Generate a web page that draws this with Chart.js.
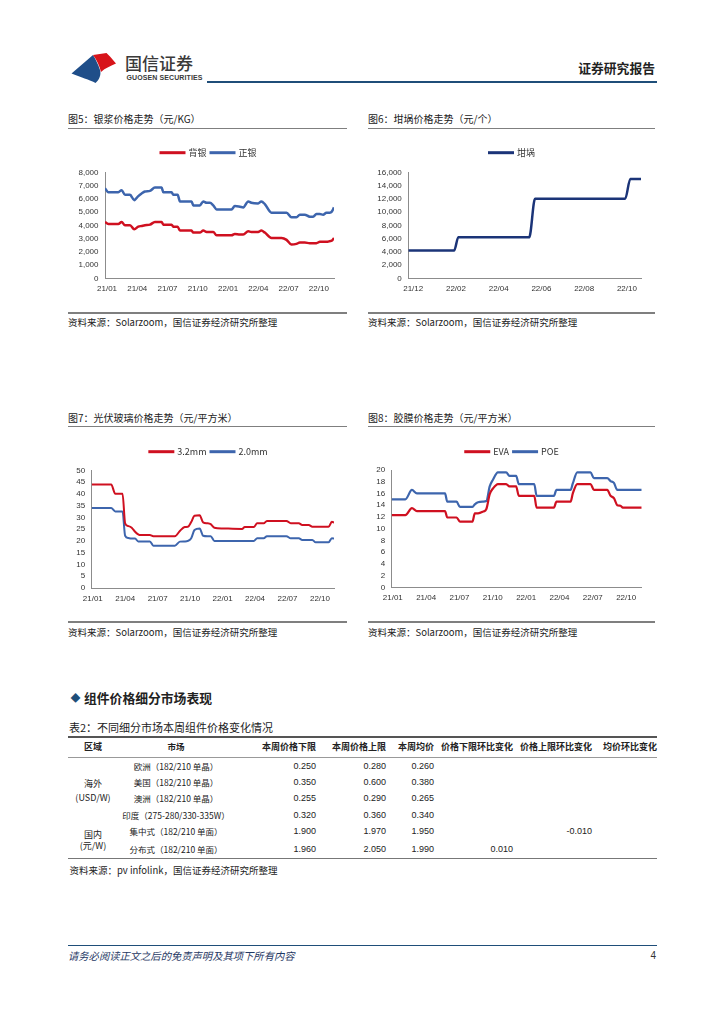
<!DOCTYPE html>
<html>
<head>
<meta charset="utf-8">
<script src="https://cdn.jsdelivr.net/npm/chart.js@4.4.1/dist/chart.umd.min.js"></script>
<style>
    body { margin: 0; width: 724px; height: 1024px; background: #fff; position: relative; overflow: hidden;
           font-family: "Noto Sans CJK SC", sans-serif; color: #222; }
    .abs { position: absolute; white-space: nowrap; }
    .rule { position: absolute; }
    .title { font-size: 10px; line-height: 10px; color: #222; }
    .src { font-size: 9.5px; line-height: 9.5px; color: #222; }
    canvas { position: absolute; }
    .cell { position: absolute; white-space: nowrap; font-size: 9px; line-height: 9px; }
    .num { font-family: "Liberation Sans", Arial, sans-serif; }
</style>
</head>
<body>

<svg class="abs" style="left:0;top:0" width="130" height="90">
    <path d="M71.5,73.5 L93,55 C96,60 98,64 100,70 C101.5,75 99,80 95.5,83 C90,80 80,77 71.5,73.5 Z" fill="#1f4e89"/>
    <path d="M93,55 L106.5,53 L110,56.5 L116,63.5 C111,66 105,68 101,72 C99.5,66 97,60 93,55 Z" fill="#d7141a"/>
</svg>
<div class="abs" style="left:125px;top:54px;font-size:17px;line-height:17px;color:#3a3a3a;font-weight:500">国信证券</div>
<div class="abs" style="left:126.5px;top:73.5px;font-size:7px;line-height:7px;color:#3a3a3a;font-weight:bold;font-family:'Liberation Sans',Arial,sans-serif;letter-spacing:0.1px">GUOSEN SECURITIES</div>
<div class="rule" style="left:207px;top:81px;width:450px;height:2px;background:#1f4e79"></div>
<div class="abs" style="right:69px;top:62px;font-size:12.8px;line-height:12.8px;font-weight:bold;color:#222">证券研究报告</div>

<div class="abs title" style="left:68px;top:114px">图5：银浆价格走势（元/KG）</div>
<div class="rule" style="left:68px;top:127.5px;width:279px;height:1.5px;background:#7f7f7f"></div>
<div class="abs title" style="left:368px;top:114px">图6：坩埚价格走势（元/个）</div>
<div class="rule" style="left:368px;top:127.5px;width:287px;height:1.5px;background:#7f7f7f"></div>

<canvas id="c5" width="280" height="160" style="left:68px;top:140px"></canvas>
<canvas id="c6" width="287" height="160" style="left:368px;top:140px"></canvas>

<div class="rule" style="left:68px;top:312px;width:279px;height:1.5px;background:#7f7f7f"></div>
<div class="abs src" style="left:68px;top:317.5px">资料来源：Solarzoom，国信证券经济研究所整理</div>
<div class="rule" style="left:368px;top:312px;width:287px;height:1.5px;background:#7f7f7f"></div>
<div class="abs src" style="left:368px;top:317.5px">资料来源：Solarzoom，国信证券经济研究所整理</div>

<div class="abs title" style="left:68px;top:412.5px">图7：光伏玻璃价格走势（元/平方米）</div>
<div class="rule" style="left:68px;top:425.5px;width:279px;height:1.5px;background:#7f7f7f"></div>
<div class="abs title" style="left:368px;top:412.5px">图8：胶膜价格走势（元/平方米）</div>
<div class="rule" style="left:368px;top:425.5px;width:287px;height:1.5px;background:#7f7f7f"></div>

<canvas id="c7" width="280" height="170" style="left:68px;top:440px"></canvas>
<canvas id="c8" width="287" height="170" style="left:368px;top:440px"></canvas>

<div class="rule" style="left:68px;top:621px;width:279px;height:1.5px;background:#7f7f7f"></div>
<div class="abs src" style="left:68px;top:627.5px">资料来源：Solarzoom，国信证券经济研究所整理</div>
<div class="rule" style="left:368px;top:621px;width:287px;height:1.5px;background:#7f7f7f"></div>
<div class="abs src" style="left:368px;top:627.5px">资料来源：Solarzoom，国信证券经济研究所整理</div>

<div class="abs" style="left:70.5px;top:692px;font-size:10px;line-height:12px;color:#1f4e79">◆</div>
<div class="abs" style="left:84px;top:691.5px;font-size:12.8px;line-height:12.8px;font-weight:bold;color:#222">组件价格细分市场表现</div>
<div class="abs" style="left:69px;top:722px;font-size:11px;line-height:11px;color:#222">表2：不同细分市场本周组件价格变化情况</div>
<div class="rule" style="left:68px;top:736px;width:589px;height:1.5px;background:#555"></div>
<div class="rule" style="left:68px;top:757px;width:589px;height:1px;background:#999"></div>
<div class="rule" style="left:68px;top:858px;width:589px;height:1px;background:#777"></div>
<div id="table"></div>
<div class="abs src" style="left:69.5px;top:866px">资料来源：pv infolink，国信证券经济研究所整理</div>

<div class="rule" style="left:68px;top:945px;width:589px;height:1px;background:#1f4e79"></div>
<div class="abs" style="left:68px;top:951px;font-size:10.3px;line-height:10.3px;font-style:italic;color:#1f3864">请务必阅读正文之后的免责声明及其项下所有内容</div>
<div class="abs" style="right:68px;top:951px;font-size:10px;line-height:10px;color:#333;font-family:'Liberation Sans',Arial,sans-serif">4</div>

<script>
// 图5 银浆 (元/KG), x in months from 21/01
const silverMonths = [-0.2, 0.13, 1.12, 1.45, 1.78, 2.28, 2.7, 3.1, 3.43, 3.76, 4.26, 4.75, 5.41, 5.58, 6.4, 6.57, 7.0,
    7.23, 8.38, 8.55, 9.2, 9.54, 9.87, 10.2, 10.53, 10.86, 12.34, 12.67, 13.17, 13.5, 14.0, 14.3, 14.98, 15.3, 15.64,
    16.3, 17.3, 17.8, 18.28, 18.78, 19.11, 19.6, 20.1, 20.43, 20.76, 21.1, 21.42, 21.75, 22.08, 22.3, 22.5];
const backSilver = [4250, 4100, 4100, 4250, 4000, 4000, 3700, 3900, 3950, 4000, 4050, 4250, 4250, 4050, 4050, 3900, 3900,
    3600, 3600, 3450, 3450, 3600, 3500, 3500, 3500, 3250, 3250, 3350, 3300, 3300, 3550, 3500, 3500, 3600, 3450,
    3050, 3050, 2900, 2550, 2600, 2700, 2700, 2650, 2650, 2650, 2750, 2750, 2750, 2800, 2850, 3050];
const frontSilver = [6800, 6500, 6500, 6650, 6300, 6300, 5900, 6200, 6400, 6550, 6600, 6850, 6850, 6500, 6500, 6300, 6300,
    5800, 5800, 5500, 5500, 5800, 5700, 5700, 5500, 5200, 5200, 5450, 5400, 5350, 5800, 5700, 5650, 5800, 5600,
    4950, 4950, 4950, 4600, 4600, 4800, 4800, 4650, 4650, 4850, 4850, 4800, 4950, 4950, 5050, 5350];
const silverTicks = [0, 3, 6, 9, 12, 15, 18, 21];
const silverLabels = ['21/01', '21/04', '21/07', '21/10', '22/01', '22/04', '22/07', '22/10'];

// 图6 坩埚 (元/个), x in months from 21/12
const crucibleMonths = [-0.23, 1.92, 2.11, 5.43, 5.7, 9.92, 10.16, 10.66];
const crucible = [4200, 4200, 6200, 6200, 12000, 12000, 15000, 15000];
const crucibleTicks = [0, 2, 4, 6, 8, 10];
const crucibleLabels = ['21/12', '22/02', '22/04', '22/06', '22/08', '22/10'];

// 图7 光伏玻璃 (元/平方米)
const glassMonths = [-0.1, 1.7, 2.08, 2.75, 2.99, 3.3, 3.6, 3.91, 4.2, 4.4, 5.28, 5.6, 7.59, 8.05, 8.5, 8.8, 9.1, 9.4,
    9.88, 10.2, 10.6, 10.9, 11.24, 12.0, 13.8, 14.05, 14.88, 15.2, 15.8, 16.1, 17.9, 18.3, 19.05, 19.36, 19.97, 20.3,
    20.6, 21.8, 22.1, 22.3];
const glass32 = [44, 44, 40, 40, 27.5, 26.3, 25.6, 23.9, 22.8, 22.5, 22.5, 22, 22, 24.2, 25.9, 26, 28, 30.7,
    30.9, 27.9, 27.5, 27.1, 25.6, 25.3, 25.1, 25.9, 25.9, 27.5, 27.5, 28.5, 28.5, 27.5, 27.5, 26.8, 26.8, 26,
    26, 26, 28.1, 27.8];
const glass20 = [34, 34, 32.5, 32.5, 22.2, 21.2, 21, 21, 19.8, 19.8, 19.8, 18, 18, 19.7, 19.8, 20, 21.1, 24.6,
    25.3, 22.2, 22, 22, 20, 20, 20, 20, 20, 21.1, 21.1, 22, 22, 21.1, 21.1, 20.4, 20.4, 20.4,
    19.4, 19.4, 21.1, 21];

// 图8 胶膜 (元/平方米)
const filmMonths = [-0.1, 1.13, 1.72, 2.17, 4.7, 4.9, 5.74, 6.04, 7.17, 7.38, 7.67, 8.12, 8.42, 8.72, 9.0, 9.46, 10.2,
    10.5, 11.1, 11.34, 12.73, 12.94, 14.5, 14.73, 16.0, 16.2, 16.6, 17.8, 18.1, 19.3, 19.6, 19.9, 20.2, 20.5, 20.7, 22.4];
const eva = [12.3, 12.3, 13.5, 13.0, 13.0, 11.9, 11.9, 11.2, 11.2, 12.6, 12.6, 12.9, 13.35, 15.9, 16.8, 17.6, 17.6,
    17.2, 17.2, 15.6, 15.6, 13.6, 13.6, 14.6, 14.6, 16.0, 17.6, 17.6, 16.6, 16.6, 15.6, 15.2, 14.0, 13.9, 13.6, 13.6];
const poe = [15.0, 15.0, 16.6, 16.0, 16.0, 14.6, 14.6, 13.7, 13.7, 14.15, 14.5, 14.6, 14.7, 17.2, 18.3, 19.6, 19.6,
    19.0, 19.0, 17.6, 17.6, 15.6, 15.6, 16.6, 16.6, 17.7, 19.6, 19.6, 18.6, 18.6, 18.1, 17.8, 16.6, 16.6, 16.6, 16.6];

// 表2
const tableHeaders = ['区域', '市场', '本周价格下限', '本周价格上限', '本周均价', '价格下限环比变化', '价格上限环比变化', '均价环比变化'];
const tableMarkets = ['欧洲（182/210 单晶）', '美国（182/210 单晶）', '澳洲（182/210 单晶）', '印度（275-280/330-335W）',
    '集中式（182/210 单面）', '分布式（182/210 单面）'];
const priceLow = ['0.250', '0.350', '0.255', '0.320', '1.900', '1.960'];
const priceHigh = ['0.280', '0.600', '0.290', '0.360', '1.970', '2.050'];
const priceAvg = ['0.260', '0.380', '0.265', '0.340', '1.950', '1.990'];
const lowChange = ['', '', '', '', '', '0.010'];
const highChange = ['', '', '', '', '-0.010', ''];
const avgChange = ['', '', '', '', '', ''];
const regionGroups = [['海外', '(USD/W)'], ['国内', '(元/W)']];

const red = '#cf1020';
const blue = '#3d65ad';
const navy = '#1b3478';
const tickFont = { family: '"Liberation Sans", Arial, sans-serif', size: 8 };

const lineLegend = {
    id: 'lineLegend',
    afterDraw(chart, args, opts) {
        const { ctx } = chart;
        const sets = chart.data.datasets;
        ctx.save();
        ctx.font = opts.font;
        ctx.textBaseline = 'middle';
        const widths = sets.map((d) => opts.lineLength + opts.gap + ctx.measureText(d.label).width);
        const total = widths.reduce((a, b) => a + b, 0) + opts.spacing * (sets.length - 1);
        let x = chart.width / 2 - total / 2;
        sets.forEach((d, i) => {
            ctx.strokeStyle = d.borderColor;
            ctx.lineWidth = opts.thickness;
            ctx.beginPath();
            ctx.moveTo(x, opts.y);
            ctx.lineTo(x + opts.lineLength, opts.y);
            ctx.stroke();
            ctx.fillStyle = '#333';
            ctx.fillText(d.label, x + opts.lineLength + opts.gap, opts.y);
            x += widths[i] + opts.spacing;
        });
        ctx.restore();
    },
};

const makeChart = (id, cfg) => new Chart(document.getElementById(id), {
    type: 'line',
    data: {
        datasets: cfg.series.map((s) => ({
            label: s.label,
            borderColor: s.color,
            borderWidth: cfg.lineWidth,
            data: cfg.months.map((m, i) => ({ x: m, y: s.values[i] })),
            pointRadius: 0,
            cubicInterpolationMode: 'monotone',
            fill: false,
        })),
    },
    options: {
        responsive: false,
        animation: false,
        layout: { padding: { top: cfg.padTop, right: cfg.padRight, left: 0, bottom: 0 } },
        plugins: {
            legend: { display: false },
            tooltip: { enabled: false },
            lineLegend: {
                y: cfg.legendY, font: '9px "Noto Sans CJK SC", sans-serif',
                lineLength: 26, gap: 3, spacing: 3, thickness: 3,
            },
        },
        scales: {
            x: {
                type: 'linear',
                min: cfg.months[0],
                max: cfg.months[cfg.months.length - 1],
                grid: { display: false, drawTicks: false },
                border: { color: '#8c8c8c' },
                afterBuildTicks: (scale) => { scale.ticks = cfg.xTicks.map((v) => ({ value: v })); },
                afterFit: (scale) => { scale.height = cfg.xHeight; },
                ticks: {
                    autoSkip: false, maxRotation: 0, padding: 6, font: tickFont, color: '#333',
                    callback: (v, i) => cfg.xLabels[i],
                },
            },
            y: {
                min: 0,
                max: cfg.yMax,
                grid: { display: false, drawTicks: false },
                border: { color: '#8c8c8c' },
                afterFit: (scale) => { scale.width = cfg.yWidth; },
                ticks: {
                    autoSkip: false, stepSize: cfg.yStep, padding: 6.5, font: tickFont, color: '#333',
                    callback: (v) => v.toLocaleString('en-US'),
                },
            },
        },
    },
    plugins: [lineLegend],
});

makeChart('c5', {
    months: silverMonths,
    series: [{ label: '背银', color: red, values: backSilver }, { label: '正银', color: blue, values: frontSilver }],
    xTicks: silverTicks, xLabels: silverLabels, yMax: 8000, yStep: 1000,
    yWidth: 37, xHeight: 21.7, padTop: 32.3, padRight: 14, legendY: 12.7, lineWidth: 2.5,
});

makeChart('c6', {
    months: crucibleMonths,
    series: [{ label: '坩埚', color: navy, values: crucible }],
    xTicks: crucibleTicks, xLabels: crucibleLabels, yMax: 16000, yStep: 2000,
    yWidth: 40.3, xHeight: 21.7, padTop: 32.3, padRight: 14, legendY: 12.7, lineWidth: 2.5,
});

makeChart('c7', {
    months: glassMonths,
    series: [{ label: '3.2mm', color: red, values: glass32 }, { label: '2.0mm', color: blue, values: glass20 }],
    xTicks: silverTicks, xLabels: silverLabels, yMax: 50, yStep: 5,
    yWidth: 23.7, xHeight: 22, padTop: 30.3, padRight: 14, legendY: 11.7, lineWidth: 2,
});

makeChart('c8', {
    months: filmMonths,
    series: [{ label: 'EVA', color: red, values: eva }, { label: 'POE', color: blue, values: poe }],
    xTicks: silverTicks, xLabels: silverLabels, yMax: 20, yStep: 2,
    yWidth: 23.7, xHeight: 22.7, padTop: 30, padRight: 13.3, legendY: 11.7, lineWidth: 2.2,
});

// table layout
const table = document.getElementById('table');
const addCell = (text, y, col, extra = '') => {
    if (!text) return;
    const el = document.createElement('div');
    el.className = 'cell' + (col.num ? ' num' : '');
    el.textContent = text;
    const size = col.size || 9;
    el.style.cssText += `top:${y - size / 2}px;font-size:${size}px;line-height:${size}px;${extra}`;
    if (col.center !== undefined) {
        el.style.left = (col.center - 100) + 'px';
        el.style.width = '200px';
        el.style.textAlign = 'center';
    } else {
        el.style.right = (724 - col.right) + 'px';
        el.style.textAlign = 'right';
    }
    table.appendChild(el);
};
const cols = [
    { center: 93 }, { center: 176, size: 8.5 }, { right: 316, num: true }, { right: 386, num: true },
    { right: 434, num: true }, { right: 513, num: true }, { right: 592, num: true }, { right: 657, num: true },
];
tableHeaders.forEach((h, i) => addCell(h, 746.7, { ...cols[i], num: false }, 'font-weight:bold'));
const rowY = [766, 782.3, 798.7, 815, 831, 849.3];
const rowCols = [tableMarkets, priceLow, priceHigh, priceAvg, lowChange, highChange, avgChange];
rowY.forEach((y, r) => rowCols.forEach((list, c) => addCell(list[r], y, cols[c + 1])));
const groupY = [[783.3, 797.3], [834, 845.7]];
regionGroups.forEach((g, i) => g.forEach((t, j) => addCell(t, groupY[i][j], cols[0])));
</script>
</body>
</html>
